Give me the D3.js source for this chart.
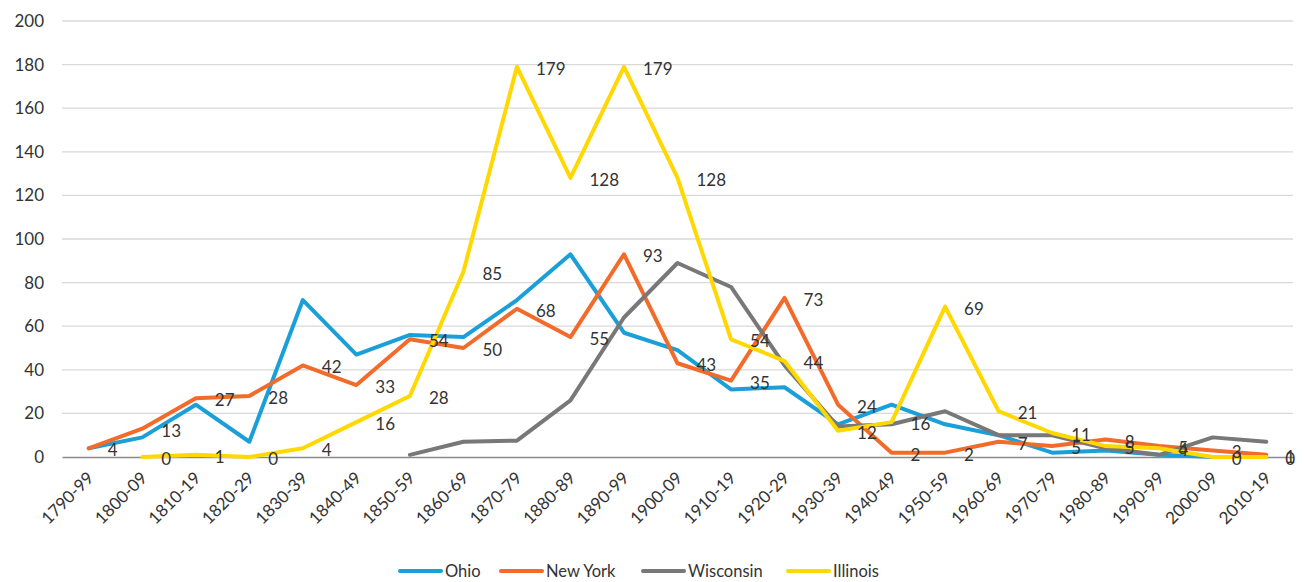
<!DOCTYPE html>
<html>
<head>
<meta charset="utf-8">
<script src="https://cdn.jsdelivr.net/npm/d3@7"></script>
<style>
  body { margin: 0; background: #fff; }
  text { font-family: Lato, "Open Sans", sans-serif; fill: #333; }
</style>
</head>
<body>
<svg id="chart" width="1304" height="582"></svg>
<script>
const decades = ["1790-99","1800-09","1810-19","1820-29","1830-39","1840-49","1850-59","1860-69",
  "1870-79","1880-89","1890-99","1900-09","1910-19","1920-29","1930-39","1940-49","1950-59",
  "1960-69","1970-79","1980-89","1990-99","2000-09","2010-19"];

const ohio      = [4, 9, 24, 7, 72, 47, 56, 55, 72, 93, 57, 49, 31, 32, 15, 24, 15, 10, 2, 3, 1, 0, 0];
const newYork   = [4, 13, 27, 28, 42, 33, 54, 50, 68, 55, 93, 43, 35, 73, 24, 2, 2, 7, 5, 8, 5, 3, 1];
const wisconsin = [null, null, null, null, null, null, 1, 7, 7.5, 26, 64, 89, 78, 42, 14, 15, 21, 10, 10, 4, 1, 9, 7];
const illinois  = [null, 0, 1, 0, 4, 16, 28, 85, 179, 128, 179, 128, 54, 44, 12, 16, 69, 21, 11, 5, 4, 0, 0];

const yTicks = [0, 20, 40, 60, 80, 100, 120, 140, 160, 180, 200];

const series = [
  { name: "Ohio", values: ohio, color: "#1B9FD9", labels: false },
  { name: "New York", values: newYork, color: "#F26B2A", labels: true },
  { name: "Wisconsin", values: wisconsin, color: "#787878", labels: false },
  { name: "Illinois", values: illinois, color: "#FFD800", labels: true }
];

const svg = d3.select("#chart");
const margin = { left: 62, right: 11, top: 21, bottom: 125 };
const width = 1304, height = 582;
const font = "Lato, 'Open Sans', sans-serif";

const x = d3.scaleBand().domain(decades).range([margin.left, width - margin.right]);
const y = d3.scaleLinear().domain([0, 200]).range([height - margin.bottom, margin.top]);
const cx = d => x(d) + x.bandwidth() / 2;

// gridlines
svg.append("g")
  .selectAll("line")
  .data(yTicks.filter(t => t > 0))
  .join("line")
  .attr("x1", margin.left).attr("x2", width - margin.right)
  .attr("y1", d => y(d)).attr("y2", d => y(d))
  .attr("stroke", "#d9d9d9").attr("stroke-width", 1.3);

// y axis labels
const yAxis = svg.append("g")
  .attr("transform", `translate(${margin.left},0)`)
  .call(d3.axisLeft(y).tickValues(yTicks).tickSize(0).tickPadding(18));
yAxis.select(".domain").remove();
yAxis.selectAll("text").style("font-size", "17px").attr("fill", "#333")
  .style("font-family", font);

// x axis
const xAxis = svg.append("g")
  .attr("transform", `translate(0,${y(0)})`)
  .call(d3.axisBottom(x).tickSize(0));
xAxis.select(".domain").attr("stroke", "#8a8a8a").attr("stroke-width", 1.5);
xAxis.selectAll("text")
  .style("font-size", "17px").attr("fill", "#333")
  .style("font-family", font)
  .attr("text-anchor", "end")
  .attr("dy", null)
  .attr("y", 0)
  .attr("transform", "translate(6,22) rotate(-45)");

// lines
const line = d3.line()
  .defined(d => d.v !== null)
  .x(d => cx(d.k))
  .y(d => y(d.v));

series.forEach(s => {
  const pts = decades.map((k, i) => ({ k: k, v: s.values[i] }));
  svg.append("path")
    .datum(pts)
    .attr("d", line)
    .attr("fill", "none")
    .attr("stroke", s.color)
    .attr("stroke-width", 4)
    .attr("stroke-linejoin", "round")
    .attr("stroke-linecap", "round");
});

// data labels
series.filter(s => s.labels).forEach(s => {
  const pts = decades.map((k, i) => ({ k: k, v: s.values[i] })).filter(d => d.v !== null);
  svg.append("g")
    .selectAll("text")
    .data(pts)
    .join("text")
    .attr("x", d => cx(d.k) + 19)
    .attr("y", d => y(d.v) + 8)
    .style("font-size", "17px")
    .text(d => Math.round(d.v));
});

// legend
const legendX = [400, 501, 643, 788];
const legend = svg.append("g");
series.forEach((s, i) => {
  legend.append("line")
    .attr("x1", legendX[i]).attr("x2", legendX[i] + 41)
    .attr("y1", 571).attr("y2", 571)
    .attr("stroke", s.color).attr("stroke-width", 4)
    .attr("stroke-linecap", "round");
  legend.append("text")
    .attr("x", legendX[i] + 45).attr("y", 577)
    .style("font-size", "16.5px")
    .text(s.name);
});
</script>
</body>
</html>
